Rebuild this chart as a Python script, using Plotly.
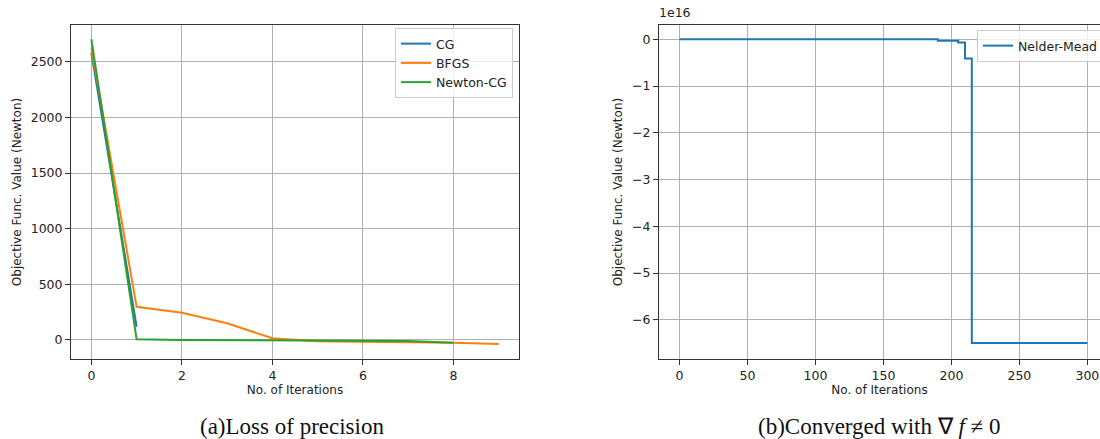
import plotly.graph_objects as go

# ---- data ----
cg_iter = [0, 1]
cg_val = [2583, 119]

bfgs_iter = [0, 1, 2, 3, 4, 5, 6, 7, 8, 9]
bfgs_val = [2628, 298, 245, 150, 15, -12, -16, -19, -26, -36]

ncg_iter = [0, 1, 2, 3, 4, 5, 6, 7, 8]
ncg_val = [2703, 6, 0, -3, -5, -6, -7, -9, -24]

nm_iter = [0, 190, 205, 210, 215, 300]
nm_val = [0.0, -0.03e16, -0.07e16, -0.41e16, -6.5e16, -6.5e16]

left_xticks = [0, 2, 4, 6, 8]
left_yticks = [0, 500, 1000, 1500, 2000, 2500]
right_xticks = [0, 50, 100, 150, 200, 250, 300]
right_yticks = [0, -1e16, -2e16, -3e16, -4e16, -5e16, -6e16]
right_yticklabels = ["0", "\u22121", "\u22122", "\u22123", "\u22124", "\u22125", "\u22126"]

C_BLUE = "#1f77b4"
C_ORANGE = "#ff7f0e"
C_GREEN = "#2ca02c"
W, H = 1100, 439
FONT = "DejaVu Sans"
FS = 12.5

fig = go.Figure()
fig.add_trace(go.Scatter(x=cg_iter, y=cg_val, mode="lines", name="CG",
                         line=dict(color=C_BLUE, width=2), xaxis="x", yaxis="y", legend="legend"))
fig.add_trace(go.Scatter(x=bfgs_iter, y=bfgs_val, mode="lines", name="BFGS",
                         line=dict(color=C_ORANGE, width=2), xaxis="x", yaxis="y", legend="legend"))
fig.add_trace(go.Scatter(x=ncg_iter, y=ncg_val, mode="lines", name="Newton-CG",
                         line=dict(color=C_GREEN, width=2), xaxis="x", yaxis="y", legend="legend"))
fig.add_trace(go.Scatter(x=nm_iter, y=nm_val, mode="lines", name="Nelder-Mead",
                         line=dict(color=C_BLUE, width=2, shape="hv"), xaxis="x2", yaxis="y2",
                         legend="legend2"))

ydom = [(H - 359) / H, (H - 25) / H]
axis_common = dict(showgrid=True, gridcolor="#b0b0b0", gridwidth=1, zeroline=False,
                   showline=True, linecolor="#333333", linewidth=1,
                   ticks="outside", ticklen=5, tickcolor="#333333",
                   tickfont=dict(family=FONT, size=FS, color="#222"))

fig.update_layout(
    width=W, height=H,
    margin=dict(l=0, r=0, t=0, b=0, autoexpand=False),
    paper_bgcolor="white", plot_bgcolor="white",
    font=dict(family=FONT, size=FS, color="#222"),
    xaxis=dict(domain=[71 / W, 519 / W], range=[-0.45, 9.45], tickvals=left_xticks,
               mirror=True, anchor="y",
               title=dict(text="No. of Iterations", font=dict(family=FONT, size=12), standoff=3),
               **axis_common),
    yaxis=dict(domain=ydom, range=[-171, 2830], tickvals=left_yticks, mirror=True, anchor="x",
               title=dict(text="Objective Func. Value (Newton)", font=dict(family=FONT, size=12), standoff=6),
               **axis_common),
    xaxis2=dict(domain=[659 / W, 1.0], range=[-15.1, 309.3], tickvals=right_xticks,
                mirror=True, anchor="y2",
                title=dict(text="No. of Iterations", font=dict(family=FONT, size=12), standoff=3),
                **axis_common),
    yaxis2=dict(domain=ydom, range=[-6.84e16, 0.306e16], tickvals=right_yticks,
                ticktext=right_yticklabels, mirror=False, anchor="x2",
                title=dict(text="Objective Func. Value (Newton)", font=dict(family=FONT, size=12), standoff=6),
                **axis_common),
    legend=dict(x=513 / W, xanchor="right", y=(H - 28) / H, yanchor="top",
                bgcolor="rgba(255,255,255,0.8)", bordercolor="#cccccc", borderwidth=1,
                font=dict(family=FONT, size=FS, color="#222")),
    legend2=dict(x=977 / W, xanchor="left", y=(H - 30) / H, yanchor="top",
                 bgcolor="rgba(255,255,255,0.8)", bordercolor="#cccccc", borderwidth=1,
                 font=dict(family=FONT, size=FS, color="#222")),
    showlegend=True,
)

fig.add_annotation(text="1e16", xref="paper", yref="paper", x=657 / W, y=(H - 22) / H,
                   xanchor="left", yanchor="bottom", showarrow=False,
                   font=dict(family=FONT, size=FS, color="#222"))
fig.add_annotation(text="(a)Loss of precision", xref="paper", yref="paper", x=292 / W, y=0,
                   xanchor="center", yanchor="bottom", showarrow=False, yshift=-2,
                   font=dict(family="Liberation Serif", size=23, color="#111"))
fig.add_annotation(text="(b)Converged with \u2207 <i>f</i> \u2260 0", xref="paper", yref="paper",
                   x=879 / W, y=0, xanchor="center", yanchor="bottom", showarrow=False, yshift=-2,
                   font=dict(family="Liberation Serif", size=23, color="#111"))

fig.write_html("out.html")
